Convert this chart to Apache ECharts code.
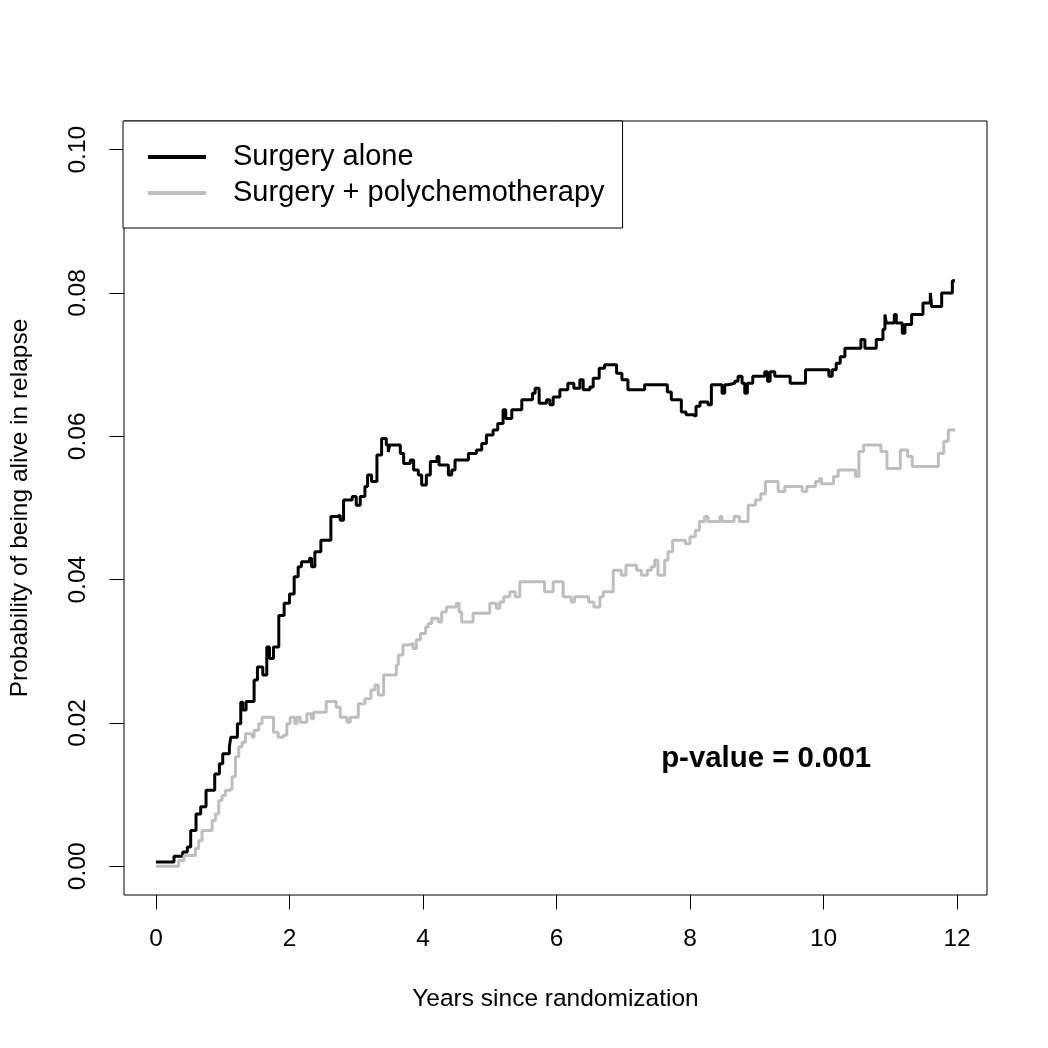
<!DOCTYPE html>
<html>
<head>
<meta charset="utf-8">
<script src="https://cdn.jsdelivr.net/npm/echarts@6/dist/echarts.min.js"></script>
<style>
  html, body { margin: 0; padding: 0; background: #fff; }
  #chart { width: 1048px; height: 1048px; }
</style>
</head>
<body>
<div id="chart"></div>
<script>
// [years, probability] — step points
const surgeryAlone = [
  [0, 0.0006], [0.27, 0.0014], [0.40, 0.0020], [0.47, 0.0027], [0.52, 0.0050],
  [0.60, 0.0073], [0.67, 0.0083], [0.75, 0.0106], [0.88, 0.0129], [0.95, 0.0143],
  [1.00, 0.0157], [1.10, 0.0167], [1.12, 0.0180], [1.22, 0.0199], [1.27, 0.0229],
  [1.30, 0.0218], [1.35, 0.0230], [1.47, 0.0260], [1.52, 0.0278], [1.60, 0.0267],
  [1.66, 0.0306], [1.70, 0.0290], [1.76, 0.0306], [1.84, 0.0350], [1.92, 0.0367],
  [2.00, 0.0380], [2.07, 0.0404], [2.13, 0.0418], [2.18, 0.0425], [2.30, 0.0430],
  [2.33, 0.0418], [2.38, 0.0439], [2.47, 0.0455], [2.62, 0.0488], [2.72, 0.0490],
  [2.76, 0.0483], [2.81, 0.0511], [2.94, 0.0516], [3.00, 0.0504], [3.06, 0.0516],
  [3.13, 0.0530], [3.17, 0.0546], [3.23, 0.0537], [3.31, 0.0574], [3.38, 0.0597],
  [3.45, 0.0588], [3.48, 0.0578], [3.50, 0.0588], [3.66, 0.0576], [3.71, 0.0562],
  [3.81, 0.0567], [3.86, 0.0553], [3.93, 0.0546], [3.98, 0.0532], [4.05, 0.0546],
  [4.11, 0.0565], [4.21, 0.0572], [4.24, 0.0560], [4.38, 0.0546], [4.43, 0.0553],
  [4.48, 0.0567], [4.68, 0.0576], [4.80, 0.0581], [4.88, 0.0590], [4.95, 0.0602],
  [5.05, 0.0609], [5.12, 0.0618], [5.20, 0.0637], [5.24, 0.0625], [5.33, 0.0637],
  [5.48, 0.0651], [5.64, 0.0660], [5.68, 0.0667], [5.74, 0.0646], [5.85, 0.0651],
  [5.90, 0.0644], [5.95, 0.0655], [6.05, 0.0665], [6.17, 0.0674], [6.26, 0.0667],
  [6.35, 0.0679], [6.40, 0.0665], [6.50, 0.0669], [6.55, 0.0681], [6.64, 0.0695],
  [6.72, 0.0700], [6.90, 0.0688], [6.98, 0.0679], [7.07, 0.0665], [7.32, 0.0672],
  [7.66, 0.0662], [7.72, 0.0651], [7.87, 0.0634], [7.94, 0.0630], [8.05, 0.0628],
  [8.09, 0.0642], [8.15, 0.0648], [8.27, 0.0644], [8.32, 0.0672], [8.48, 0.0660],
  [8.52, 0.0672], [8.57, 0.0674], [8.67, 0.0677], [8.72, 0.0684], [8.78, 0.0674],
  [8.82, 0.0660], [8.86, 0.0674], [8.94, 0.0684], [9.12, 0.0690], [9.16, 0.0677],
  [9.20, 0.0690], [9.27, 0.0684], [9.50, 0.0674], [9.73, 0.0693], [10.08, 0.0684],
  [10.13, 0.0693], [10.19, 0.0702], [10.25, 0.0711], [10.32, 0.0723], [10.56, 0.0735],
  [10.62, 0.0723], [10.79, 0.0735], [10.89, 0.0749], [10.92, 0.0770], [10.94, 0.0758],
  [11.06, 0.0770], [11.09, 0.0758], [11.18, 0.0744], [11.22, 0.0756], [11.32, 0.0770],
  [11.49, 0.0786], [11.60, 0.0800], [11.62, 0.0781], [11.77, 0.0800], [11.93, 0.0817],
  [11.97, 0.0817]
];

const surgeryChemo = [
  [0, 0.0000], [0.34, 0.0008], [0.42, 0.0015], [0.59, 0.0025], [0.64, 0.0036],
  [0.69, 0.0050], [0.84, 0.0064], [0.89, 0.0073], [0.94, 0.0092], [0.99, 0.0099],
  [1.04, 0.0106], [1.10, 0.0108], [1.14, 0.0125], [1.19, 0.0153], [1.24, 0.0167],
  [1.29, 0.0173], [1.34, 0.0185], [1.44, 0.0180], [1.47, 0.0190], [1.54, 0.0199],
  [1.59, 0.0208], [1.76, 0.0187], [1.83, 0.0180], [1.91, 0.0183], [1.96, 0.0199],
  [2.01, 0.0208], [2.08, 0.0199], [2.11, 0.0208], [2.16, 0.0201], [2.26, 0.0213],
  [2.33, 0.0206], [2.36, 0.0215], [2.55, 0.0230], [2.70, 0.0222], [2.76, 0.0208],
  [2.86, 0.0201], [2.91, 0.0208], [3.03, 0.0227], [3.13, 0.0234], [3.22, 0.0246],
  [3.28, 0.0253], [3.33, 0.0239], [3.41, 0.0267], [3.60, 0.0281], [3.63, 0.0295],
  [3.70, 0.0309], [3.78, 0.0311], [3.85, 0.0304], [3.90, 0.0316], [3.96, 0.0325],
  [4.04, 0.0334], [4.08, 0.0339], [4.13, 0.0346], [4.23, 0.0341], [4.28, 0.0355],
  [4.35, 0.0362], [4.50, 0.0367], [4.54, 0.0355], [4.58, 0.0341], [4.75, 0.0353],
  [5.00, 0.0367], [5.10, 0.0360], [5.15, 0.0369], [5.21, 0.0376], [5.30, 0.0383],
  [5.38, 0.0376], [5.45, 0.0397], [5.82, 0.0383], [5.95, 0.0397], [6.10, 0.0376],
  [6.22, 0.0369], [6.27, 0.0376], [6.48, 0.0369], [6.56, 0.0362], [6.65, 0.0376],
  [6.70, 0.0383], [6.85, 0.0413], [6.97, 0.0406], [7.04, 0.0420], [7.20, 0.0413],
  [7.27, 0.0406], [7.36, 0.0413], [7.42, 0.0418], [7.47, 0.0427], [7.52, 0.0406],
  [7.62, 0.0427], [7.67, 0.0439], [7.74, 0.0455], [7.93, 0.0450], [8.00, 0.0460],
  [8.08, 0.0469], [8.14, 0.0481], [8.22, 0.0488], [8.27, 0.0481], [8.45, 0.0488],
  [8.48, 0.0481], [8.66, 0.0488], [8.74, 0.0481], [8.87, 0.0504], [8.98, 0.0511],
  [9.06, 0.0520], [9.13, 0.0537], [9.32, 0.0523], [9.42, 0.0530], [9.68, 0.0523],
  [9.75, 0.0530], [9.88, 0.0537], [9.94, 0.0541], [9.97, 0.0534], [10.15, 0.0544],
  [10.22, 0.0553], [10.48, 0.0544], [10.53, 0.0579], [10.60, 0.0588], [10.86, 0.0579],
  [10.95, 0.0555], [11.15, 0.0581], [11.26, 0.0572], [11.33, 0.0558], [11.72, 0.0576],
  [11.80, 0.0593], [11.87, 0.0609], [11.97, 0.0609]
];

const xTicks = [0, 2, 4, 6, 8, 10, 12];
const yTicks = [0, 0.02, 0.04, 0.06, 0.08, 0.10];
const pValueLabel = "p-value = 0.001";
const pValueAt = [9.14, 0.0150];

const font = "Liberation Sans, Arial, Helvetica, sans-serif";

const chart = echarts.init(document.getElementById("chart"), null, { renderer: "canvas" });

chart.setOption({
  animation: false,
  backgroundColor: "#fff",
  textStyle: { fontFamily: font, color: "#000" },
  grid: {
    left: 123, right: 61, top: 121, bottom: 153,
    show: true, borderColor: "#000", borderWidth: 1, backgroundColor: "transparent"
  },
  legend: {
    left: 123,
    top: 121,
    orient: "vertical",
    backgroundColor: "#fff",
    borderColor: "#000",
    borderWidth: 1,
    borderRadius: 0,
    padding: [20, 18, 19, 25],
    itemGap: 4,
    itemWidth: 58,
    itemHeight: 4,
    icon: "rect",
    selectedMode: false,
    data: ["Surgery alone", "Surgery + polychemotherapy"],
    textStyle: { fontFamily: font, fontSize: 29, color: "#000", lineHeight: 32, padding: [0, 0, 0, 22] }
  },
  xAxis: {
    type: "value",
    min: -0.479,
    max: 12.449,
    name: "Years since randomization",
    nameLocation: "middle",
    nameGap: 92,
    nameTextStyle: { fontFamily: font, fontSize: 24.5, color: "#000" },
    axisLine: { show: false, onZero: false },
    axisTick: { show: true, inside: false, customValues: xTicks, length: 14.5, lineStyle: { color: "#000", width: 1 } },
    axisLabel: { customValues: xTicks, margin: 32, fontSize: 24.5, color: "#000", fontFamily: font },
    splitLine: { show: false }
  },
  yAxis: {
    type: "value",
    min: -0.004,
    max: 0.104,
    name: "Probability of being alive in relapse",
    nameLocation: "middle",
    nameGap: 91,
    nameRotate: 90,
    nameTextStyle: { fontFamily: font, fontSize: 24.5, color: "#000" },
    axisLine: { show: false, onZero: false },
    axisTick: { show: true, inside: false, customValues: yTicks, length: 14.5, lineStyle: { color: "#000", width: 1 } },
    axisLabel: {
      customValues: yTicks,
      rotate: 90,
      margin: 33,
      fontSize: 24.5,
      color: "#000",
      fontFamily: font,
      formatter: (v) => v.toFixed(2)
    },
    splitLine: { show: false }
  },
  series: [
    {
      name: "Surgery alone",
      type: "line",
      step: "end",
      data: surgeryAlone,
      showSymbol: false,
      color: "#000",
      lineStyle: { width: 3, color: "#000" }
    },
    {
      name: "Surgery + polychemotherapy",
      type: "line",
      step: "end",
      data: surgeryChemo,
      showSymbol: false,
      color: "#bebebe",
      lineStyle: { width: 3, color: "#bebebe" }
    },
    {
      name: "p-value",
      type: "scatter",
      data: [pValueAt],
      symbolSize: 0,
      silent: true,
      itemStyle: { opacity: 1, color: "#000" },
      label: {
        show: true,
        position: [0, 0],
        align: "center",
        verticalAlign: "middle",
        formatter: pValueLabel,
        fontFamily: font,
        fontSize: 29.4,
        fontWeight: "bold",
        color: "#000",
        opacity: 1
      }
    }
  ]
});
</script>
</body>
</html>
